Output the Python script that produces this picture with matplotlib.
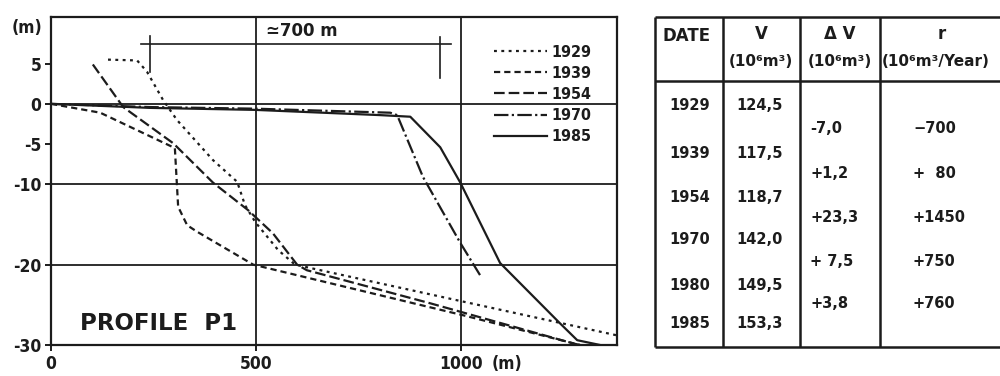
import matplotlib
matplotlib.use("Agg")
import matplotlib.pyplot as plt

plt.rcParams["axes.unicode_minus"] = False

FONT = "DejaVu Sans"
INK = "#1c1c1c"

# ---- profile data (distance along profile in m, elevation in m) ----
years = ["1929", "1939", "1954", "1970", "1985"]

x_1929 = [139, 210, 234, 273, 307, 395, 454, 473, 498, 554, 595, 1005, 1380]
y_1929 = [5.5, 5.4, 4.0, 0.5, -2.0, -7.0, -9.7, -12.6, -14.7, -18.2, -20.0, -24.6, -28.8]

x_1939 = [0, 120, 302, 310, 332, 356, 493, 1005, 1290]
y_1939 = [0.0, -1.1, -5.5, -12.8, -15.1, -15.9, -20.0, -26.3, -30.0]

x_1954 = [102, 176, 298, 395, 480, 541, 600, 624, 924, 1273, 1290]
y_1954 = [4.9, -0.4, -4.9, -9.8, -13.2, -16.1, -20.0, -20.7, -24.8, -29.8, -30.0]

x_1970 = [0, 241, 498, 827, 844, 907, 998, 1046]
y_1970 = [0.0, -0.4, -0.6, -1.1, -1.4, -9.1, -17.3, -21.3]

x_1985 = [0, 241, 498, 802, 876, 949, 998, 1095, 1241, 1283, 1339]
y_1985 = [0.0, -0.5, -0.75, -1.4, -1.6, -5.4, -9.8, -19.8, -27.3, -29.4, -30.0]

# ---- volume table ----
table_dates = ["1929", "1939", "1954", "1970", "1980", "1985"]
table_volume = ["124,5", "117,5", "118,7", "142,0", "149,5", "153,3"]
table_dv = ["-7,0", "+1,2", "+23,3", "+ 7,5", "+3,8"]
table_rate = ["\u2212700", "+  80", "+1450", "+750", "+760"]

y_ticks = [5, 0, -5, -10, -20, -30]
y_tick_labels = ["5", "0", "-5", "-10", "-20", "-30"]
x_ticks = [0, 500, 1000]
x_tick_labels = ["0", "500", "1000"]

fig = plt.figure(figsize=(10, 3.76), dpi=100)
ax = fig.add_axes([0.051, 0.0824, 0.566, 0.8723])
ax.set_xlim(0, 1380)
ax.set_ylim(-30, 10.8)

# grid of the drawing sheet
for gy in (0, -10, -20):
    ax.axhline(gy, color=INK, lw=1.3, zorder=1)
for gx in (500, 1000):
    ax.axvline(gx, color=INK, lw=1.3, zorder=1)

lw = 1.6
styles = {
    "1929": (0, (1.3, 2.0)),
    "1939": (0, (2.8, 1.8)),
    "1954": (0, (4.8, 1.8)),
    "1970": (0, (6.5, 1.5, 1.0, 1.5)),
    "1985": "-",
}
series = {
    "1929": (x_1929, y_1929),
    "1939": (x_1939, y_1939),
    "1954": (x_1954, y_1954),
    "1970": (x_1970, y_1970),
    "1985": (x_1985, y_1985),
}
for yr in years:
    xs, ys = series[yr]
    ax.plot(xs, ys, color=INK, lw=lw, linestyle=styles[yr], label=yr,
            zorder=3, clip_on=True)

for s in ax.spines.values():
    s.set_color(INK)
    s.set_linewidth(1.6)

ax.set_yticks(y_ticks)
ax.set_yticklabels(y_tick_labels)
ax.set_xticks(x_ticks)
ax.set_xticklabels(x_tick_labels)
ax.tick_params(axis="both", direction="out", length=4, width=1.4, color=INK,
               labelcolor=INK, labelsize=12.5, pad=3)
for lab in ax.get_xticklabels() + ax.get_yticklabels():
    lab.set_fontfamily(FONT)
    lab.set_fontweight("bold")
    lab.set_fontstretch("condensed")

ax.annotate("(m)", xy=(1000, 0), xycoords=("data", "axes fraction"),
            xytext=(22, -7), textcoords="offset points", ha="left", va="top",
            fontsize=12.5, fontweight="bold", family=FONT, stretch="condensed",
            color=INK)
fig.text(0.027, 0.925, "(m)", ha="center", va="center", fontsize=12.5,
         fontweight="bold", family=FONT, stretch="condensed", color=INK)

# width marker of ~700 m
ax.plot([220, 975], [7.4, 7.4], color=INK, lw=1.2, zorder=2)
ax.plot([241, 241], [4.0, 8.5], color=INK, lw=1.2, zorder=2)
ax.plot([949, 949], [3.2, 8.3], color=INK, lw=1.2, zorder=2)
ax.text(612, 8.0, "\u2243700 m", ha="center", va="bottom", fontsize=12,
        fontweight="bold", family=FONT, color=INK)

ax.text(70, -27.3, "PROFILE  P1", ha="left", va="center", fontsize=16.5,
        fontweight="bold", family=FONT, color=INK)

leg = ax.legend(loc="upper right", bbox_to_anchor=(0.955, 0.915),
                frameon=False, handlelength=3.3, handletextpad=0.3,
                labelspacing=0.38, borderaxespad=0, borderpad=0,
                prop={"family": FONT, "weight": "bold", "size": 11.5,
                      "stretch": "condensed"})
for t in leg.get_texts():
    t.set_color(INK)

# ---- table drawn in pixel coordinates of the figure ----
tab = fig.add_axes([0, 0, 1, 1], facecolor="none")
tab.set_xlim(0, 1000)
tab.set_ylim(376, 0)
tab.axis("off")

left, top, bottom, right = 655, 17, 347, 1010
col_x = [723, 800, 880]
head_y = 81
tk = dict(color=INK, lw=1.8, solid_capstyle="butt")
tab.plot([left, right], [top, top], **tk)
tab.plot([left, right], [bottom, bottom], **tk)
tab.plot([left, right], [head_y, head_y], **tk)
tab.plot([left, left], [top, bottom], **tk)
for cx in col_x:
    tab.plot([cx, cx], [top, bottom], **tk)

hk = dict(fontweight="bold", family=FONT, color=INK)
tab.text(662, 36, "DATE", ha="left", va="center", fontsize=12, **hk)
tab.text(761, 34, "V", ha="center", va="center", fontsize=12, **hk)
tab.text(761, 62, "(10\u2076m\u00b3)", ha="center", va="center", fontsize=11, **hk)
tab.text(840, 34, "\u0394 V", ha="center", va="center", fontsize=12, **hk)
tab.text(840, 62, "(10\u2076m\u00b3)", ha="center", va="center", fontsize=11, **hk)
tab.text(942, 34, "r", ha="center", va="center", fontsize=12, **hk)
tab.text(882, 62, "(10\u2076m\u00b3/Year)", ha="left", va="center", fontsize=11, **hk)

row_y = [106, 153, 197, 240, 285, 323]
for yy, d, v in zip(row_y, table_dates, table_volume):
    tab.text(690, yy, d, ha="center", va="center", fontsize=10.5, **hk)
    tab.text(760, yy, v, ha="center", va="center", fontsize=10.5, **hk)
mid_y = [(a + b) / 2 - 1 for a, b in zip(row_y[:-1], row_y[1:])]
for yy, dv, r in zip(mid_y, table_dv, table_rate):
    tab.text(810, yy, dv, ha="left", va="center", fontsize=10.5, **hk)
    tab.text(913, yy, r, ha="left", va="center", fontsize=10.5, **hk)

fig.savefig("out.png", dpi=100, facecolor="white")
